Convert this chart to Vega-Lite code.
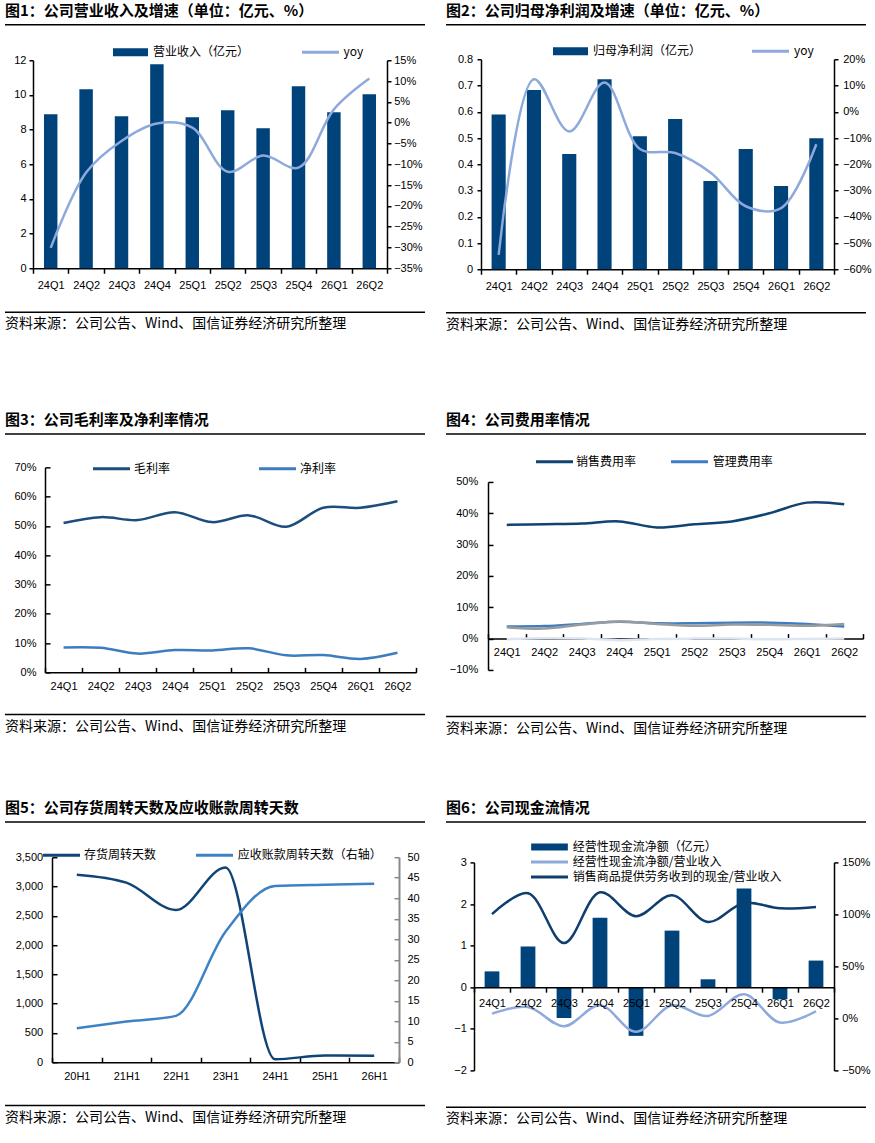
{
  "$schema": "https://vega.github.io/schema/vega-lite/v6.json",
  "background": "white",
  "padding": {"left": 5, "top": 4, "right": 0, "bottom": 0},
  "config": {
    "font": "Noto Sans CJK SC",
    "view": {"stroke": null},
    "axis": {
      "grid": false,
      "domainColor": "#000",
      "tickColor": "#000",
      "domainWidth": 1.5,
      "tickWidth": 1.5,
      "labelColor": "#000",
      "labelFont": "Liberation Sans",
      "labelFontSize": 11,
      "labelOverlap": false,
      "labelFlush": false
    },
    "legend": {"labelFont": "Noto Sans CJK SC", "labelFontSize": 12, "labelColor": "#000", "padding": 0, "labelLimit": 400},
    "title": {"anchor": "start", "color": "#000", "font": "Noto Sans CJK SC"}
  },
  "resolve": {"scale": {"fill": "independent", "stroke": "independent"}},
  "vconcat": [
    {
      "resolve": {"scale": {"fill": "independent", "stroke": "independent"}},
      "hconcat": [
        {
          "title": {"text": "图1：公司营业收入及增速（单位：亿元、%）", "fontSize": 15, "fontWeight": "bold", "offset": 5},
          "resolve": {"scale": {"fill": "independent", "stroke": "independent"}},
          "vconcat": [
            {"width": 420, "height": 1.5, "view": {"fill": "#000", "stroke": null}, "data": {"values": []}, "mark": "text", "encoding": {"text": {"field": "t"}}},
            {
              "resolve": {"scale": {"fill": "independent", "stroke": "independent"}},
              "vconcat": [
                {
                  "resolve": {"scale": {"fill": "independent", "stroke": "independent"}},
                  "spacing": 0,
                  "hconcat": [
                    {"width": 7.8, "height": 1, "data": {"values": []}, "mark": "text", "encoding": {"text": {"field": "t"}}},
                    {
                      "width": 354, "height": 208,
                      "data": {"values": [
                        {"季度": "24Q1", "营业收入": 8.88, "yoy": -0.301},
                        {"季度": "24Q2", "营业收入": 10.33, "yoy": -0.12},
                        {"季度": "24Q3", "营业收入": 8.77, "yoy": -0.044},
                        {"季度": "24Q4", "营业收入": 11.77, "yoy": -0.002},
                        {"季度": "25Q1", "营业收入": 8.71, "yoy": -0.012},
                        {"季度": "25Q2", "营业收入": 9.11, "yoy": -0.118},
                        {"季度": "25Q3", "营业收入": 8.07, "yoy": -0.079},
                        {"季度": "25Q4", "营业收入": 10.5, "yoy": -0.108},
                        {"季度": "26Q1", "营业收入": 9.0, "yoy": 0.032},
                        {"季度": "26Q2", "营业收入": 10.04, "yoy": 0.106}
                      ]},
                      "encoding": {
                        "x": {"field": "季度", "type": "ordinal", "sort": null,
                          "scale": {"paddingInner": 0, "paddingOuter": 0},
                          "axis": {"title": null, "labelAngle": 0, "tickBand": "extent", "tickSize": 5, "labelPadding": 5.8}}
                      },
                      "layer": [
                        {
                          "mark": {"type": "bar", "width": {"band": 0.38}},
                          "encoding": {
                            "y": {"field": "营业收入", "type": "quantitative", "scale": {"domain": [0, 12], "nice": false},
                              "axis": {"title": null, "values": [0, 2, 4, 6, 8, 10, 12], "tickSize": 4, "labelPadding": 3}},
                            "fill": {"datum": "营业收入（亿元）", "type": "nominal", "scale": {"range": ["#00427A"]},
                              "legend": {"title": null, "orient": "none", "legendX": 80, "legendY": -25.5, "symbolType": "M-1,-0.23H1V0.23H-1Z", "symbolSize": 1225, "symbolStrokeWidth": 0, "labelOffset": 5}}
                          }
                        },
                        {
                          "mark": {"type": "line", "interpolate": "catmull-rom", "strokeWidth": 2.5},
                          "encoding": {
                            "y": {"field": "yoy", "type": "quantitative", "scale": {"domain": [-0.35, 0.15], "nice": false},
                              "axis": {"title": null, "orient": "right", "values": [-0.35, -0.3, -0.25, -0.2, -0.15, -0.1, -0.05, 0, 0.05, 0.1, 0.15], "format": ".0%", "tickSize": 4, "labelPadding": 2.7}},
                            "stroke": {"datum": "yoy", "type": "nominal", "scale": {"range": ["#8EA9DB"]},
                              "legend": {"title": null, "orient": "none", "legendX": 267.5, "legendY": -28, "symbolType": "stroke", "symbolSize": 1369, "symbolStrokeWidth": 3, "labelOffset": 3}}
                          }
                        }
                      ],
                      "resolve": {"scale": {"y": "independent"}}
                    }
                  ]
                },
                {"width": 420, "height": 1.5, "view": {"fill": "#000", "stroke": null},
                  "title": {"text": "资料来源：公司公告、Wind、国信证券经济研究所整理", "orient": "bottom", "fontSize": 14, "fontWeight": "normal", "offset": 4.3},
                  "data": {"values": []}, "mark": "text", "encoding": {"text": {"field": "t"}}}
              ],
              "spacing": 21.2
            }
          ],
          "spacing": 6.25
        },
        {
          "title": {"text": "图2：公司归母净利润及增速（单位：亿元、%）", "fontSize": 15, "fontWeight": "bold", "offset": 5},
          "resolve": {"scale": {"fill": "independent", "stroke": "independent"}},
          "vconcat": [
            {"width": 420, "height": 1.5, "view": {"fill": "#000", "stroke": null}, "data": {"values": []}, "mark": "text", "encoding": {"text": {"field": "t"}}},
            {
              "resolve": {"scale": {"fill": "independent", "stroke": "independent"}},
              "vconcat": [
                {
                  "resolve": {"scale": {"fill": "independent", "stroke": "independent"}},
                  "spacing": 0,
                  "hconcat": [
                    {"width": 10.4, "height": 1, "data": {"values": []}, "mark": "text", "encoding": {"text": {"field": "t"}}},
                    {
                      "width": 353, "height": 210,
                      "data": {"values": [
                        {"季度": "24Q1", "归母净利润": 0.59, "yoy": -0.545},
                        {"季度": "24Q2", "归母净利润": 0.683, "yoy": 0.124},
                        {"季度": "24Q3", "归母净利润": 0.439, "yoy": -0.075},
                        {"季度": "24Q4", "归母净利润": 0.724, "yoy": 0.111},
                        {"季度": "25Q1", "归母净利润": 0.507, "yoy": -0.142},
                        {"季度": "25Q2", "归母净利润": 0.572, "yoy": -0.157},
                        {"季度": "25Q3", "归母净利润": 0.336, "yoy": -0.231},
                        {"季度": "25Q4", "归母净利润": 0.458, "yoy": -0.36},
                        {"季度": "26Q1", "归母净利润": 0.317, "yoy": -0.367},
                        {"季度": "26Q2", "归母净利润": 0.499, "yoy": -0.124}
                      ]},
                      "encoding": {
                        "x": {"field": "季度", "type": "ordinal", "sort": null,
                          "scale": {"paddingInner": 0, "paddingOuter": 0},
                          "axis": {"title": null, "labelAngle": 0, "tickBand": "extent", "tickSize": 5, "labelPadding": 6.2}}
                      },
                      "layer": [
                        {
                          "mark": {"type": "bar", "width": {"band": 0.4}},
                          "encoding": {
                            "y": {"field": "归母净利润", "type": "quantitative", "scale": {"domain": [0, 0.8], "nice": false},
                              "axis": {"title": null, "values": [0, 0.1, 0.2, 0.3, 0.4, 0.5, 0.6, 0.7, 0.8], "labelExpr": "datum.value === 0 ? '0' : format(datum.value, '.1f')", "tickSize": 4, "labelPadding": 4.3}},
                            "fill": {"datum": "归母净利润（亿元）", "type": "nominal", "scale": {"range": ["#00427A"]},
                              "legend": {"title": null, "orient": "none", "legendX": 72, "legendY": -25.5, "symbolType": "M-1,-0.23H1V0.23H-1Z", "symbolSize": 1225, "symbolStrokeWidth": 0, "labelOffset": 5}}
                          }
                        },
                        {
                          "mark": {"type": "line", "interpolate": "catmull-rom", "strokeWidth": 2.5},
                          "encoding": {
                            "y": {"field": "yoy", "type": "quantitative", "scale": {"domain": [-0.6, 0.2], "nice": false},
                              "axis": {"title": null, "orient": "right", "values": [-0.6, -0.5, -0.4, -0.3, -0.2, -0.1, 0, 0.1, 0.2], "format": ".0%", "tickSize": 4, "labelPadding": 4.7}},
                            "stroke": {"datum": "yoy", "type": "nominal", "scale": {"range": ["#8EA9DB"]},
                              "legend": {"title": null, "orient": "none", "legendX": 269.5, "legendY": -28, "symbolType": "stroke", "symbolSize": 1369, "symbolStrokeWidth": 3, "labelOffset": 3.5}}
                          }
                        }
                      ],
                      "resolve": {"scale": {"y": "independent"}}
                    }
                  ]
                },
                {"width": 420, "height": 1.5, "view": {"fill": "#000", "stroke": null},
                  "title": {"text": "资料来源：公司公告、Wind、国信证券经济研究所整理", "orient": "bottom", "fontSize": 14, "fontWeight": "normal", "offset": 4.3},
                  "data": {"values": []}, "mark": "text", "encoding": {"text": {"field": "t"}}}
              ],
              "spacing": 19.8
            }
          ],
          "spacing": 5.25
        }
      ],
      "spacing": 21
    },
    {
      "resolve": {"scale": {"fill": "independent", "stroke": "independent"}},
      "vconcat": [
        {
          "resolve": {"scale": {"fill": "independent", "stroke": "independent"}},
          "hconcat": [
            {
              "title": {"text": "图3：公司毛利率及净利率情况", "fontSize": 15, "fontWeight": "bold", "offset": 5},
              "resolve": {"scale": {"fill": "independent", "stroke": "independent"}},
              "vconcat": [
                {"width": 420, "height": 1.5, "view": {"fill": "#000", "stroke": null}, "data": {"values": []}, "mark": "text", "encoding": {"text": {"field": "t"}}},
                {
                  "resolve": {"scale": {"fill": "independent", "stroke": "independent"}},
                  "vconcat": [
                    {
                      "resolve": {"scale": {"fill": "independent", "stroke": "independent"}},
                      "spacing": 0,
                      "hconcat": [
                        {"width": 8, "height": 1, "data": {"values": []}, "mark": "text", "encoding": {"text": {"field": "t"}}},
                        {
                          "width": 371, "height": 205,
                          "data": {"values": [
                            {"季度": "24Q1", "毛利率": 0.51, "净利率": 0.085},
                            {"季度": "24Q2", "毛利率": 0.53, "净利率": 0.084},
                            {"季度": "24Q3", "毛利率": 0.52, "净利率": 0.064},
                            {"季度": "24Q4", "毛利率": 0.547, "净利率": 0.076},
                            {"季度": "25Q1", "毛利率": 0.513, "净利率": 0.075},
                            {"季度": "25Q2", "毛利率": 0.536, "净利率": 0.082},
                            {"季度": "25Q3", "毛利率": 0.497, "净利率": 0.058},
                            {"季度": "25Q4", "毛利率": 0.562, "净利率": 0.059},
                            {"季度": "26Q1", "毛利率": 0.562, "净利率": 0.046},
                            {"季度": "26Q2", "毛利率": 0.584, "净利率": 0.067}
                          ]},
                          "encoding": {
                            "x": {"field": "季度", "type": "ordinal", "sort": null,
                              "scale": {"paddingInner": 0, "paddingOuter": 0},
                              "axis": {"title": null, "labelAngle": 0, "tickBand": "extent", "tickSize": -5, "labelPadding": 12.8}}
                          },
                          "layer": [
                            {
                              "mark": {"type": "line", "interpolate": "catmull-rom", "strokeWidth": 2.5},
                              "encoding": {
                                "y": {"field": "毛利率", "type": "quantitative", "scale": {"domain": [0, 0.7], "nice": false},
                                  "axis": {"title": null, "values": [0, 0.1, 0.2, 0.3, 0.4, 0.5, 0.6, 0.7], "format": ".0%", "tickSize": -5, "labelPadding": 14}},
                                "stroke": {"datum": "毛利率", "type": "nominal", "scale": {"range": ["#1B4E7E"]},
                                  "legend": {"title": null, "orient": "none", "legendX": 46.5, "legendY": -18.5, "symbolType": "stroke", "symbolSize": 1369, "symbolStrokeWidth": 3, "labelOffset": 2.5}}
                              }
                            },
                            {
                              "mark": {"type": "line", "interpolate": "catmull-rom", "strokeWidth": 2.5},
                              "encoding": {
                                "y": {"field": "净利率", "type": "quantitative", "scale": {"domain": [0, 0.7], "nice": false},
                                  "axis": {"title": null, "values": [0, 0.1, 0.2, 0.3, 0.4, 0.5, 0.6, 0.7], "format": ".0%", "tickSize": -5, "labelPadding": 14}},
                                "stroke": {"datum": "净利率", "type": "nominal", "scale": {"range": ["#3C7DC0"]},
                                  "legend": {"title": null, "orient": "none", "legendX": 212.5, "legendY": -18.5, "symbolType": "stroke", "symbolSize": 1369, "symbolStrokeWidth": 3, "labelOffset": 2.5}}
                              }
                            }
                          ],
                          "resolve": {"scale": {"stroke": "independent"}}
                        }
                      ]
                    },
                    {"width": 420, "height": 1.5, "view": {"fill": "#000", "stroke": null},
                      "title": {"text": "资料来源：公司公告、Wind、国信证券经济研究所整理", "orient": "bottom", "fontSize": 14, "fontWeight": "normal", "offset": 4.3},
                      "data": {"values": []}, "mark": "text", "encoding": {"text": {"field": "t"}}}
                  ],
                  "spacing": 22.5
                }
              ],
              "spacing": 13.1
            },
            {
              "title": {"text": "图4：公司费用率情况", "fontSize": 15, "fontWeight": "bold", "offset": 5},
              "resolve": {"scale": {"fill": "independent", "stroke": "independent"}},
              "vconcat": [
                {"width": 420, "height": 1.5, "view": {"fill": "#000", "stroke": null}, "data": {"values": []}, "mark": "text", "encoding": {"text": {"field": "t"}}},
                {
                  "resolve": {"scale": {"fill": "independent", "stroke": "independent"}},
                  "vconcat": [
                    {
                      "resolve": {"scale": {"fill": "independent", "stroke": "independent"}},
                      "spacing": 0,
                      "hconcat": [
                        {"width": 2.3, "height": 1, "data": {"values": []}, "mark": "text", "encoding": {"text": {"field": "t"}}},
                        {
                          "width": 375, "height": 188,
                          "data": {"values": [
                            {"季度": "24Q1", "销售费用率": 0.363, "管理费用率": 0.039, "费用率3": 0.036, "费用率4": -0.002},
                            {"季度": "24Q2", "销售费用率": 0.365, "管理费用率": 0.04, "费用率3": 0.032, "费用率4": 0.001},
                            {"季度": "24Q3", "销售费用率": 0.367, "管理费用率": 0.047, "费用率3": 0.045, "费用率4": 0.0},
                            {"季度": "24Q4", "销售费用率": 0.374, "管理费用率": 0.054, "费用率3": 0.055, "费用率4": -0.005},
                            {"季度": "25Q1", "销售费用率": 0.355, "管理费用率": 0.049, "费用率3": 0.047, "费用率4": -0.001},
                            {"季度": "25Q2", "销售费用率": 0.365, "管理费用率": 0.049, "费用率3": 0.041, "费用率4": 0.0},
                            {"季度": "25Q3", "销售费用率": 0.374, "管理费用率": 0.051, "费用率3": 0.045, "费用率4": 0.0},
                            {"季度": "25Q4", "销售费用率": 0.4, "管理费用率": 0.051, "费用率3": 0.044, "费用率4": -0.002},
                            {"季度": "26Q1", "销售费用率": 0.434, "管理费用率": 0.047, "费用率3": 0.041, "费用率4": -0.001},
                            {"季度": "26Q2", "销售费用率": 0.429, "管理费用率": 0.039, "费用率3": 0.047, "费用率4": 0.0}
                          ]},
                          "encoding": {
                            "x": {"field": "季度", "type": "ordinal", "sort": null,
                              "scale": {"paddingInner": 0, "paddingOuter": 0},
                              "axis": {"title": null, "labelAngle": 0, "tickBand": "extent", "tickSize": -5, "labelPadding": 13.1, "offset": -31.33}}
                          },
                          "layer": [
                            {
                              "mark": {"type": "line", "interpolate": "catmull-rom", "strokeWidth": 2.5, "color": "#DDE5F2"},
                              "encoding": {
                                "y": {"field": "费用率4", "type": "quantitative", "scale": {"domain": [-0.1, 0.5], "nice": false},
                                  "axis": {"title": null, "values": [-0.1, 0, 0.1, 0.2, 0.3, 0.4, 0.5], "format": ".0%", "tickSize": -5, "labelPadding": 15.3}}
                              }
                            },
                            {
                              "mark": {"type": "line", "interpolate": "catmull-rom", "strokeWidth": 2.5},
                              "encoding": {
                                "y": {"field": "管理费用率", "type": "quantitative", "scale": {"domain": [-0.1, 0.5], "nice": false},
                                  "axis": {"title": null, "values": [-0.1, 0, 0.1, 0.2, 0.3, 0.4, 0.5], "format": ".0%", "tickSize": -5, "labelPadding": 15.3}},
                                "stroke": {"datum": "管理费用率", "type": "nominal", "scale": {"range": ["#3E7DC4"]},
                                  "legend": {"title": null, "orient": "none", "legendX": 181.5, "legendY": -40.3, "symbolType": "stroke", "symbolSize": 1369, "symbolStrokeWidth": 3, "labelOffset": 3.2}}
                              }
                            },
                            {
                              "mark": {"type": "line", "interpolate": "catmull-rom", "strokeWidth": 2.5, "color": "#9B9B9B"},
                              "encoding": {
                                "y": {"field": "费用率3", "type": "quantitative", "scale": {"domain": [-0.1, 0.5], "nice": false},
                                  "axis": {"title": null, "values": [-0.1, 0, 0.1, 0.2, 0.3, 0.4, 0.5], "format": ".0%", "tickSize": -5, "labelPadding": 15.3}}
                              }
                            },
                            {
                              "mark": {"type": "line", "interpolate": "catmull-rom", "strokeWidth": 2.5},
                              "encoding": {
                                "y": {"field": "销售费用率", "type": "quantitative", "scale": {"domain": [-0.1, 0.5], "nice": false},
                                  "axis": {"title": null, "values": [-0.1, 0, 0.1, 0.2, 0.3, 0.4, 0.5], "format": ".0%", "tickSize": -5, "labelPadding": 15.3}},
                                "stroke": {"datum": "销售费用率", "type": "nominal", "scale": {"range": ["#0F4372"]},
                                  "legend": {"title": null, "orient": "none", "legendX": 46.5, "legendY": -40.3, "symbolType": "stroke", "symbolSize": 1369, "symbolStrokeWidth": 3, "labelOffset": 1.5}}
                              }
                            }
                          ],
                          "resolve": {"scale": {"stroke": "independent"}}
                        }
                      ]
                    },
                    {"width": 420, "height": 1.5, "view": {"fill": "#000", "stroke": null},
                      "title": {"text": "资料来源：公司公告、Wind、国信证券经济研究所整理", "orient": "bottom", "fontSize": 14, "fontWeight": "normal", "offset": 4.3},
                      "data": {"values": []}, "mark": "text", "encoding": {"text": {"field": "t"}}}
                  ],
                  "spacing": 40.8
                }
              ],
              "spacing": 5.7
            }
          ],
          "spacing": 21
        },
        {
          "resolve": {"scale": {"fill": "independent", "stroke": "independent"}},
          "hconcat": [
            {
              "title": {"text": "图5：公司存货周转天数及应收账款周转天数", "fontSize": 15, "fontWeight": "bold", "offset": 5},
              "resolve": {"scale": {"fill": "independent", "stroke": "independent"}},
              "vconcat": [
                {"width": 420, "height": 1.5, "view": {"fill": "#000", "stroke": null}, "data": {"values": []}, "mark": "text", "encoding": {"text": {"field": "t"}}},
                {
                  "resolve": {"scale": {"fill": "independent", "stroke": "independent"}},
                  "vconcat": [
                    {
                      "resolve": {"scale": {"fill": "independent", "stroke": "independent"}},
                      "spacing": 0,
                      "hconcat": [
                        {"width": 9.2, "height": 1, "data": {"values": []}, "mark": "text", "encoding": {"text": {"field": "t"}}},
                        {
                          "width": 347, "height": 205,
                          "data": {"values": [
                            {"期间": "20H1", "存货周转天数": 3201, "应收账款周转天数": 8.3},
                            {"期间": "21H1", "存货周转天数": 3065, "应收账款周转天数": 9.9},
                            {"期间": "22H1", "存货周转天数": 2599, "应收账款周转天数": 11.3},
                            {"期间": "23H1", "存货周转天数": 3326, "应收账款周转天数": 31.8},
                            {"期间": "24H1", "存货周转天数": 51, "应收账款周转天数": 43.0},
                            {"期间": "25H1", "存货周转天数": 114, "应收账款周转天数": 43.3},
                            {"期间": "26H1", "存货周转天数": 108, "应收账款周转天数": 43.5}
                          ]},
                          "encoding": {
                            "x": {"field": "期间", "type": "ordinal", "sort": null,
                              "scale": {"paddingInner": 0, "paddingOuter": 0},
                              "axis": {"title": null, "labelAngle": 0, "tickBand": "extent", "tickSize": -5, "labelPadding": 12.9}}
                          },
                          "layer": [
                            {
                              "mark": {"type": "line", "interpolate": "monotone", "strokeWidth": 2.5},
                              "encoding": {
                                "y": {"field": "存货周转天数", "type": "quantitative", "scale": {"domain": [0, 3500], "nice": false},
                                  "axis": {"title": null, "values": [0, 500, 1000, 1500, 2000, 2500, 3000, 3500], "labelExpr": "format(datum.value, ',.0f')", "tickSize": -5, "labelPadding": 14.3}},
                                "stroke": {"datum": "存货周转天数", "type": "nominal", "scale": {"range": ["#0E4576"]},
                                  "legend": {"title": null, "orient": "none", "legendX": -10.5, "legendY": -22, "symbolType": "stroke", "symbolSize": 1369, "symbolStrokeWidth": 3, "labelOffset": 2.5}}
                              }
                            },
                            {
                              "mark": {"type": "line", "interpolate": "monotone", "strokeWidth": 2.5},
                              "encoding": {
                                "y": {"field": "应收账款周转天数", "type": "quantitative", "scale": {"domain": [0, 50], "nice": false},
                                  "axis": {"title": null, "orient": "right", "values": [0, 5, 10, 15, 20, 25, 30, 35, 40, 45, 50], "tickSize": -5, "labelPadding": 13, "domainColor": "#898989", "tickColor": "#898989", "domainWidth": 2}},
                                "stroke": {"datum": "应收账款周转天数（右轴）", "type": "nominal", "scale": {"range": ["#3E82C6"]},
                                  "legend": {"title": null, "orient": "none", "legendX": 142.5, "legendY": -22, "symbolType": "stroke", "symbolSize": 1369, "symbolStrokeWidth": 3, "labelOffset": 3.2}}
                              }
                            }
                          ],
                          "resolve": {"scale": {"y": "independent", "stroke": "independent"}}
                        }
                      ]
                    },
                    {"width": 420, "height": 1.5, "view": {"fill": "#000", "stroke": null},
                      "title": {"text": "资料来源：公司公告、Wind、国信证券经济研究所整理", "orient": "bottom", "fontSize": 14, "fontWeight": "normal", "offset": 4.3},
                      "data": {"values": []}, "mark": "text", "encoding": {"text": {"field": "t"}}}
                  ],
                  "spacing": 23.6
                }
              ],
              "spacing": 12
            },
            {
              "title": {"text": "图6：公司现金流情况", "fontSize": 15, "fontWeight": "bold", "offset": 5},
              "resolve": {"scale": {"fill": "independent", "stroke": "independent"}},
              "vconcat": [
                {"width": 420, "height": 1.5, "view": {"fill": "#000", "stroke": null}, "data": {"values": []}, "mark": "text", "encoding": {"text": {"field": "t"}}},
                {
                  "resolve": {"scale": {"fill": "independent", "stroke": "independent"}},
                  "vconcat": [
                    {
                      "resolve": {"scale": {"fill": "independent", "stroke": "independent"}},
                      "spacing": 0,
                      "hconcat": [
                        {"width": 6.8, "height": 1, "data": {"values": []}, "mark": "text", "encoding": {"text": {"field": "t"}}},
                        {
                          "width": 360, "height": 208,
                          "data": {"values": [
                            {"季度": "24Q1", "经营性现金流净额": 0.38, "净额占营收": 0.046, "收现占营收": 1.002},
                            {"季度": "24Q2", "经营性现金流净额": 0.98, "净额占营收": 0.11, "收现占营收": 1.203},
                            {"季度": "24Q3", "经营性现金流净额": -0.74, "净额占营收": -0.075, "收现占营收": 0.724},
                            {"季度": "24Q4", "经营性现金流净额": 1.67, "净额占营收": 0.126, "收现占营收": 1.213},
                            {"季度": "25Q1", "经营性现金流净额": -1.17, "净额占营收": -0.129, "收现占营收": 0.983},
                            {"季度": "25Q2", "经营性现金流净额": 1.36, "净额占营收": 0.126, "收现占营收": 1.184},
                            {"季度": "25Q3", "经营性现金流净额": 0.19, "净额占营收": 0.024, "收现占营收": 0.928},
                            {"季度": "25Q4", "经营性现金流净额": 2.37, "净额占营收": 0.232, "收现占营收": 1.11},
                            {"季度": "26Q1", "经营性现金流净额": -0.29, "净额占营收": -0.04, "收现占营收": 1.059},
                            {"季度": "26Q2", "经营性现金流净额": 0.64, "净额占营收": 0.069, "收现占营收": 1.072}
                          ]},
                          "encoding": {
                            "x": {"field": "季度", "type": "ordinal", "sort": null,
                              "scale": {"paddingInner": 0, "paddingOuter": 0},
                              "axis": {"title": null, "labelAngle": 0, "tickBand": "extent", "tickSize": 5, "labelPadding": 5.5, "offset": -83.2, "zindex": 1}}
                          },
                          "layer": [
                            {
                              "mark": {"type": "bar", "width": {"band": 0.41}},
                              "encoding": {
                                "y": {"field": "经营性现金流净额", "type": "quantitative", "scale": {"domain": [-2, 3], "nice": false},
                                  "axis": {"title": null, "values": [-2, -1, 0, 1, 2, 3], "tickSize": 4, "labelPadding": 3.7}},
                                "fill": {"datum": "经营性现金流净额（亿元）", "type": "nominal", "scale": {"range": ["#00427A"]},
                                  "legend": {"title": null, "orient": "none", "legendX": 57, "legendY": -33.8, "symbolType": "M-1,-0.19H1V0.19H-1Z", "symbolSize": 1347, "symbolStrokeWidth": 0, "labelOffset": 4.7}}
                              }
                            },
                            {
                              "layer": [
                                {
                                  "mark": {"type": "line", "interpolate": "catmull-rom", "strokeWidth": 2.5},
                                  "encoding": {
                                    "y": {"field": "净额占营收", "type": "quantitative", "scale": {"domain": [-0.5, 1.5], "nice": false},
                                      "axis": {"title": null, "orient": "right", "values": [-0.5, 0, 0.5, 1, 1.5], "format": ".0%", "tickSize": 4, "labelPadding": 3.7}},
                                    "stroke": {"datum": "经营性现金流净额/营业收入", "type": "nominal", "scale": {"range": ["#8EA9DB"]},
                                      "legend": {"title": null, "orient": "none", "legendX": 55.5, "legendY": -20.3, "symbolType": "stroke", "symbolSize": 1369, "symbolStrokeWidth": 3, "labelOffset": 3.2}}
                                  }
                                },
                                {
                                  "mark": {"type": "line", "interpolate": "catmull-rom", "strokeWidth": 2.5},
                                  "encoding": {
                                    "y": {"field": "收现占营收", "type": "quantitative", "scale": {"domain": [-0.5, 1.5], "nice": false},
                                      "axis": {"title": null, "orient": "right", "values": [-0.5, 0, 0.5, 1, 1.5], "format": ".0%", "tickSize": 4, "labelPadding": 3.7}},
                                    "stroke": {"datum": "销售商品提供劳务收到的现金/营业收入", "type": "nominal", "scale": {"range": ["#0F3D6E"]},
                                      "legend": {"title": null, "orient": "none", "legendX": 55.5, "legendY": -5.3, "symbolType": "stroke", "symbolSize": 1369, "symbolStrokeWidth": 3, "labelOffset": 3.2}}
                                  }
                                }
                              ],
                              "resolve": {"scale": {"stroke": "independent"}}
                            }
                          ],
                          "resolve": {"scale": {"y": "independent", "stroke": "independent"}}
                        }
                      ]
                    },
                    {"width": 420, "height": 1.5, "view": {"fill": "#000", "stroke": null},
                      "title": {"text": "资料来源：公司公告、Wind、国信证券经济研究所整理", "orient": "bottom", "fontSize": 14, "fontWeight": "normal", "offset": 4.3},
                      "data": {"values": []}, "mark": "text", "encoding": {"text": {"field": "t"}}}
                  ],
                  "spacing": 31
                }
              ],
              "spacing": 5.2
            }
          ],
          "spacing": 21
        }
      ],
      "spacing": 64.95
    }
  ],
  "spacing": 81.25
}
